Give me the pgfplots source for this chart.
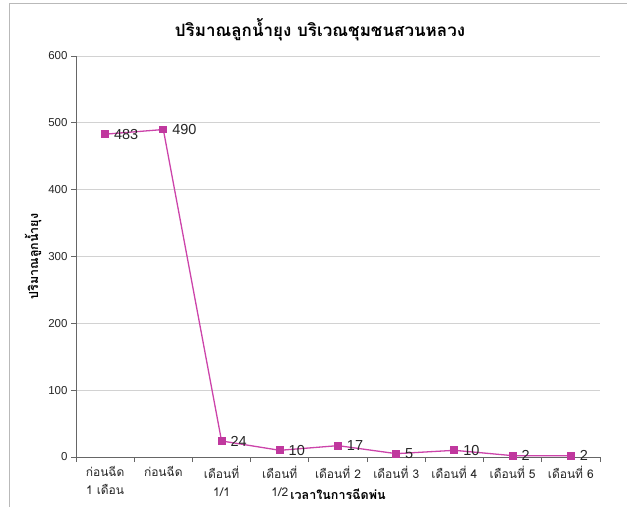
\documentclass[border=0pt]{standalone}
\usepackage{fontspec}
\setmainfont{Liberation Sans}
\newfontfamily\thai[Script=Thai]{Loma}
\usepackage{pgfplots}
\pgfplotsset{compat=1.18}
\definecolor{linec}{HTML}{CC44AA}
\definecolor{markc}{HTML}{C0389E}
\begin{document}
\begin{tikzpicture}
\path[use as bounding box] (0,0) rectangle (627bp,507bp);
\draw[gray!55, line width=1bp] (9bp,0) -- (9bp,503bp) -- (627bp,503bp);
\node[font=\thai\bfseries\fontsize{17bp}{20bp}\selectfont] at (320bp,477bp) {ปริมาณลูกน้ำยุง บริเวณชุมชนสวนหลวง};
\begin{axis}[
  at={(76bp,50bp)}, anchor=south west, scale only axis,
  width=524bp, height=401bp,
  xmin=-0.5, xmax=8.5, ymin=0, ymax=600,
  axis x line*=bottom, axis y line*=left,
  axis line style={-, gray!80!black, line width=0.9bp},
  ytick={0,100,...,600},
  ymajorgrids, grid style={gray!35, line width=0.8bp},
  xtick={-0.5,0.5,...,8.5},
  x tick label as interval,
  xticklabels={{ก่อนฉีด\\1 เดือน},{ก่อนฉีด},{เดือนที่\\1/1},{เดือนที่\\1/2},{เดือนที่ 2},{เดือนที่ 3},{เดือนที่ 4},{เดือนที่ 5},{เดือนที่ 6}},
  xticklabel style={font=\thai\fontsize{12bp}{18bp}\selectfont, align=center, text=black!85, yshift=-1bp},
  yticklabel style={font=\fontsize{11.5bp}{13bp}\selectfont, text=black!85},
  /pgf/number format/assume math mode=true,
  tick align=outside, major tick length=5bp,
  tick style={gray!80!black, line width=0.8bp},
  xlabel={\thai\bfseries เวลาในการฉีดพ่น},
  xlabel style={at={(rel axis cs:0.5,0)}, anchor=center, yshift=-37bp, font=\fontsize{12.5bp}{14bp}\selectfont},
  ylabel={\thai\bfseries ปริมาณลูกน้ำยุง},
  ylabel style={font=\fontsize{12.5bp}{14bp}\selectfont},
  nodes near coords,
  every node near coord/.append style={anchor=west, xshift=5bp, font=\fontsize{14.5bp}{16bp}\selectfont, text=black!85},
]
\addplot[color=linec, line width=1.3bp, mark=square*, mark size=3.3bp, mark options={fill=markc, draw=markc}] coordinates {
(0,483) (1,490) (2,24) (3,10) (4,17) (5,5) (6,10) (7,2) (8,2)};
\draw[gray!45, line width=0.9bp] (rel axis cs:1,0) -- (rel axis cs:1,1);
\end{axis}
\end{tikzpicture}
\end{document}
